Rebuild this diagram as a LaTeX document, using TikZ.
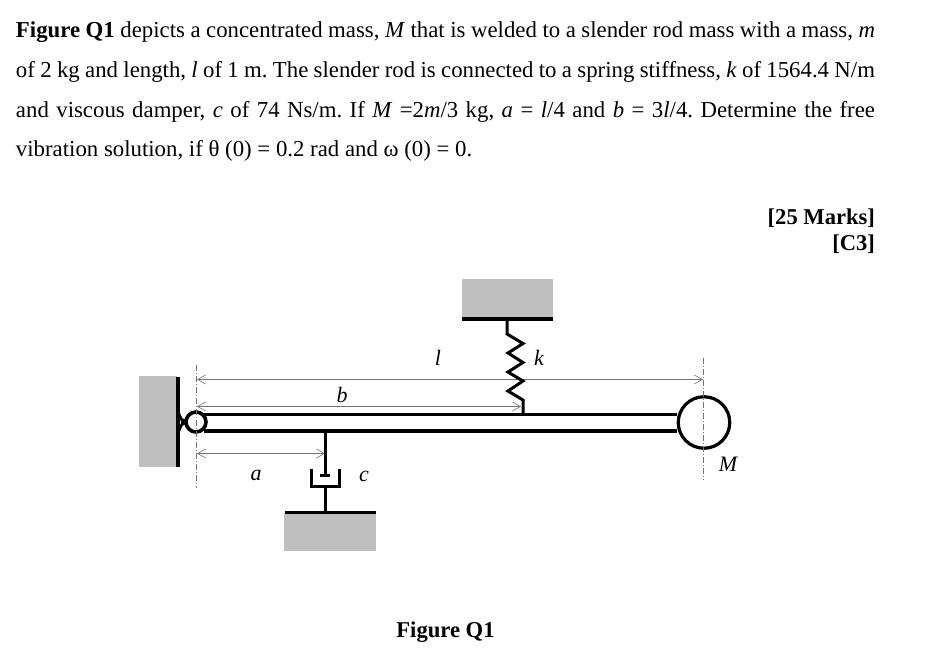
\documentclass[tikz,border=0pt]{standalone}
\usepackage{fontspec}
\setmainfont{Liberation Serif}
\usetikzlibrary{arrows.meta}
\tikzset{
 x=1pt,y=-1pt,
 txt/.style={inner sep=0pt,outer sep=0pt,anchor=base west,font=\fontsize{22.8}{24}\selectfont},
 btxt/.style={inner sep=0pt,outer sep=0pt,font=\fontsize{22.6}{24}\selectfont\bfseries},
 lab/.style={inner sep=0pt,font=\fontsize{22}{24}\selectfont\itshape},
 ground/.style={fill=black!25,draw=none},
 plate/.style={line width=3.2pt,draw=black},
 rodline/.style={line width=3.6pt,draw=black},
 member/.style={line width=3pt,draw=black},
 dim/.style={draw=black!55,line width=.7pt,{Straight Barb[length=8pt,width=9pt,line width=.6pt]}-{Straight Barb[length=8pt,width=9pt,line width=.6pt]}},
 axisl/.style={draw=black!55,line width=.6pt,dash pattern=on 6pt off 2pt on 1pt off 2pt},
}
\begin{document}
\frenchspacing
\begin{tikzpicture}
\useasboundingbox (0,0) rectangle (935,656);
\fill[white] (0,0) rectangle (935,656);
% text
\node[txt] (t1) at (16,37) {\hbox to 859pt{\textbf{Figure Q1} depicts a concentrated mass, \textit{M} that is welded to a slender rod mass with a mass, \textit{m}}};
\node[txt] (t2) at (16,77) {\hbox to 859pt{of 2 kg and length, \textit{l} of 1 m. The slender rod is connected to a spring stiffness, \textit{k} of 1564.4 N/m}};
\node[txt] (t3) at (16,117) {\hbox to 859pt{and viscous damper, \textit{c} of 74 Ns/m. If \textit{M} =2\textit{m}/3 kg, \textit{a} = \textit{l}/4 and \textit{b} = 3\textit{l}/4. Determine the free}};
\node[txt] (t4) at (16,156) {vibration solution, if θ (0) = 0.2 rad and ω (0) = 0.};
\node[btxt,anchor=base east] (m1) at (875,224) {[25 Marks]};
\node[btxt,anchor=base east] (m2) at (875,250) {[C3]};
\node[btxt,anchor=base] (cap) at (445.5,637) {Figure Q1};
% grounds
\fill[ground] (139,376) rectangle (177,467);
\fill[ground] (462,279) rectangle (553,317);
\fill[ground] (284,513) rectangle (376,551);
\draw[plate] (178,377) -- (178,467);
\draw[plate] (462,319) -- (553,319);
\draw[plate] (285,512.5) -- (376,512.5);
% axes
\coordinate (axAt) at (196,365); \coordinate (axAb) at (196,488);
\coordinate (axBt) at (703,358); \coordinate (axBb) at (703,480);
% rod and end bodies
\node[circle,draw=black,line width=3.2pt,fill=white,minimum size=51.5pt,inner sep=0pt] (M) at (704,422.5) {};
\node[circle,draw=black,line width=3.6pt,fill=white,minimum size=20pt,inner sep=0pt] (pin) at (196,422) {};
\draw[rodline] (pin.north east |- 0,414.3) -- (M.west |- 0,414.3);
\draw[rodline] (pin.south east |- 0,430.7) -- (M.west |- 0,430.7);
\draw[line width=2.6pt] (178,412) -- (pin.west |- 0,425);
\draw[line width=2.6pt] (178,433) -- (pin.west |- 0,419);
\draw[axisl] (axAt) -- (axAb);
\draw[axisl] (axBt) -- (axBb);
% dimensions
\draw[dim] (197,379.5) -- (703,379.5);
\draw[dim] (197,406.5) -- (521,406.5);
\draw[dim] (197,453.5) -- (325,453.5);
% spring
\coordinate (sTop) at (507,319);
\coordinate (sBot) at (523,414);
\draw[member,line join=miter] (sTop) -- (507,334) -- (523,343.5) -- (508,353) -- (523,362.5) -- (508,372) -- (523,381) -- (508,391) -- (523,400) -- (sBot);
% damper
\coordinate (dTop) at (325,431);
\coordinate (dBot) at (325,512);
\draw[member] (dTop) -- (325,475);
\draw[member] (320,475) -- (330,475);
\draw[member] (311,469) -- (311,486.5) -- (339,486.5) -- (339,469);
\draw[member] (325,486.5) -- (dBot);
% labels
\node[lab] (ll) at (438,358) {l};
\node[lab] (lk) at (539,358) {k};
\node[lab] (lb) at (342,395) {b};
\node[lab] (la) at (256,475) {a};
\node[lab] (lc) at (364,476) {c};
\node[lab] (lM) at (728,464) {M};
\end{tikzpicture}
\end{document}
